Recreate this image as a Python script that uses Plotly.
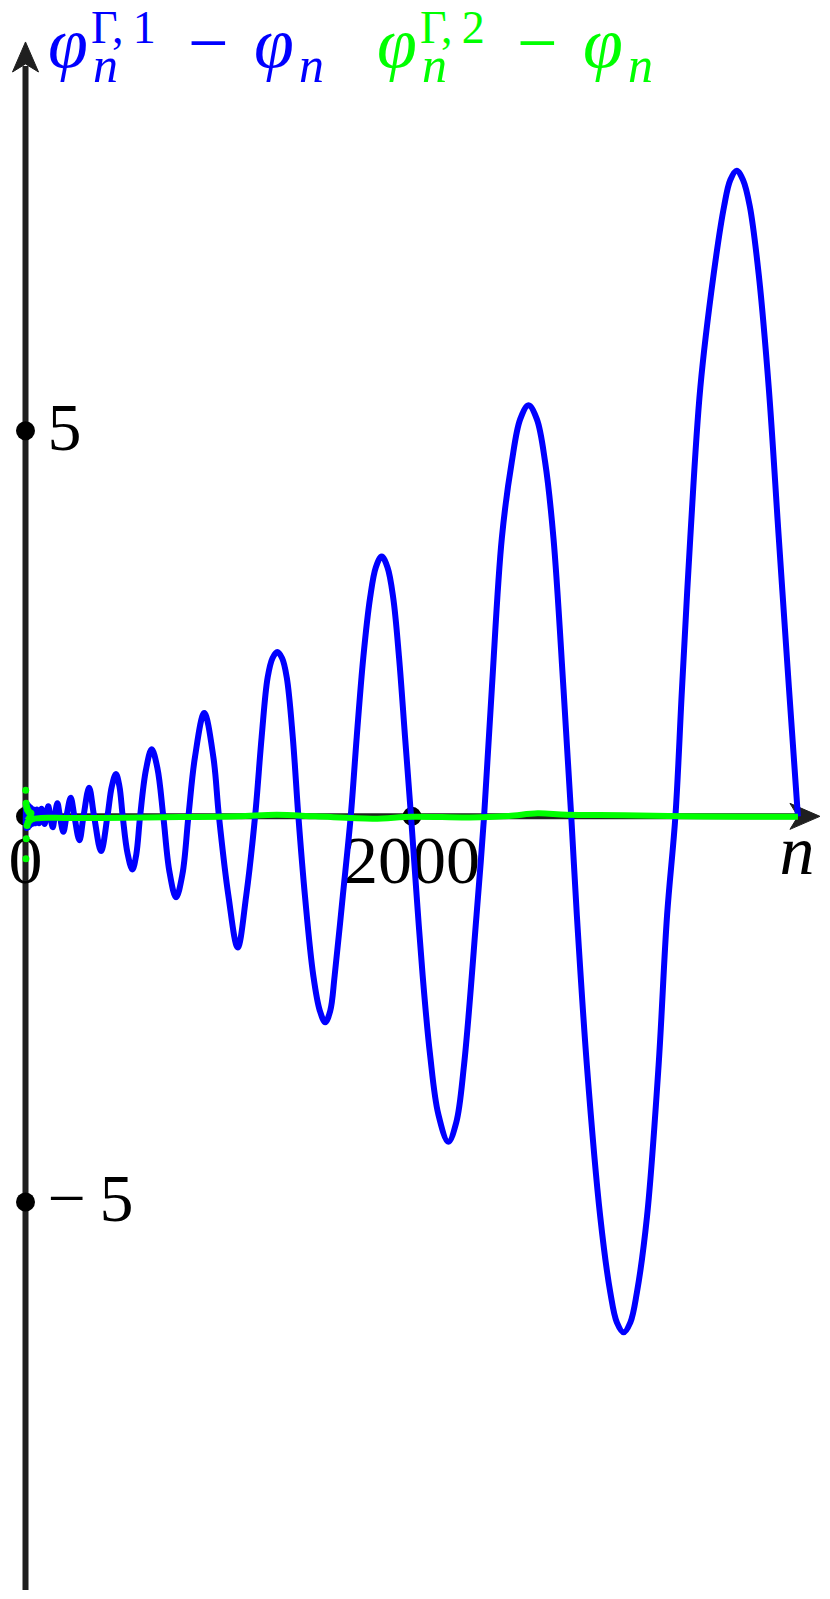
import plotly.graph_objects as go

# ---------------- data ----------------
blue_n = [1, 3, 5, 7, 9, 12, 15, 19, 23, 28, 34, 41, 45, 49, 54, 59, 64, 70, 76, 83, 90, 99, 107,
          118, 128, 141, 151, 165, 178, 196, 212, 234, 253, 279, 300, 329, 355, 391, 424,
          446, 468, 486, 503, 528, 553, 573, 593, 623, 653, 683, 713, 745, 779, 812, 843,
          877, 925, 972, 1001, 1050, 1098, 1142, 1188, 1222, 1253, 1278, 1303, 1328, 1352, 1383, 1412,
          1446, 1489, 1523, 1551, 1577, 1600, 1642, 1683, 1714, 1748, 1783, 1813, 1843, 1873, 1903,
          1933, 1964, 1995,
          2024, 2055, 2093, 2136, 2188, 2229, 2269, 2334, 2373, 2413, 2465, 2516, 2560, 2603, 2646,
          2689, 2732, 2784, 2824, 2853, 2905, 2974, 3026, 3060, 3095, 3130, 3164, 3216, 3276, 3320,
          3363, 3397, 3440, 3492, 3561, 3615, 3647, 3680, 3713, 3748, 3794, 3846, 3898, 3951, 3997]
blue_v = [-0.10, 0.17, -0.15, 0.16, -0.15, 0.15, -0.14, 0.13, -0.12, 0.11, -0.10, 0.09, 0.0, -0.09, 0.0,
          0.09, 0.0, -0.09, 0.0, 0.10, 0.0, -0.10, 0.0,
          0.13, 0.0, -0.14, 0.0, 0.17, 0.0, -0.20, 0.0, 0.24, 0.0, -0.31, 0.0, 0.37, 0.0, -0.45, 0.0,
          0.38, 0.55, 0.39, 0.0, -0.48, -0.69, -0.50, 0.0, 0.60, 0.87, 0.62, 0.0, -0.72, -1.05, -0.75, 0.0,
          0.77, 1.34, 0.77, 0.0, -1.03, -1.70, -1.03, 0.0, 1.03, 1.80, 2.05, 2.13, 2.05, 1.80, 1.03, 0.0,
          -1.03, -2.06, -2.52, -2.67, -2.52, -2.06, -1.03, 0.0, 1.03, 2.06, 2.83, 3.23, 3.37, 3.23, 2.83,
          2.06, 1.03, 0.0,
          -1.03, -2.06, -3.08, -3.86, -4.22, -3.97, -3.23, -1.28, 0.0, 1.65, 3.61, 4.59, 5.15, 5.33, 5.15,
          4.59, 3.61, 1.65, 0.0, -1.28, -3.23, -5.19, -6.17, -6.56, -6.69, -6.56, -6.17, -5.19, -3.23, -1.28,
          0.0, 1.65, 3.61, 5.56, 7.03, 7.91, 8.25, 8.37, 8.25, 7.91, 7.03, 5.56, 3.61, 1.65, 0.0]

green_n = [5, 30, 80, 200, 400, 800, 1100, 1300, 1500, 1800, 2000, 2300, 2500, 2650, 2800,
           3100, 3400, 3700, 3997]
green_v = [0.0, -0.03, -0.02, -0.02, -0.02, -0.01, 0.0, 0.02, 0.0, -0.03, -0.005, -0.015, 0.005,
           0.04, 0.02, 0.015, 0.0, -0.005, -0.005]

green_dot_n = [1, 2, 3, 4, 6, 8, 10, 13, 17, 22, 28, 35]
green_dot_v = [0.34, -0.55, 0.17, -0.29, 0.12, -0.12, 0.09, -0.08, 0.06, -0.05, 0.04, -0.03]

y_ticks = [5, -5]
y_tick_labels = ["5", "\u2212\u20095"]
x_ticks = [0, 2000]
x_tick_labels = ["0", "2000"]

# ---------------- geometry ----------------
W, H = 830, 1599
ORIGIN_PX = (25.5, 816.35)
KX = 386.5 / 2000.0               # px per n unit
KY = 77.13                        # px per y unit
x_range = [-ORIGIN_PX[0] / KX, (W - ORIGIN_PX[0]) / KX]
y_range = [-(H - ORIGIN_PX[1]) / KY, ORIGIN_PX[1] / KY]

X_END = 4111      # arrow tip of n axis
Y_TOP = 10.04     # arrow tip of vertical axis
Y_BOT = -10.03

AXIS_COLOR = "#1f1f1f"
BLUE = "#0000ff"
GREEN = "#00ff00"
FONT = "Liberation Serif"

HEAD_L, HEAD_W, HEAD_N = 30, 13, 22   # arrow head length / half width / notch depth (px)

shapes = [
    dict(type="line", xref="x", yref="y", x0=0, y0=Y_BOT, x1=0, y1=Y_TOP - 24 / KY,
         line=dict(color=AXIS_COLOR, width=6), layer="below"),
    dict(type="line", xref="x", yref="y", x0=0, y0=0, x1=X_END - 24 / KX, y1=0,
         line=dict(color=AXIS_COLOR, width=6), layer="below"),
    dict(type="path", xref="x", yref="y", layer="below", fillcolor=AXIS_COLOR,
         line=dict(color=AXIS_COLOR, width=1),
         path="M{:.3f},{:.4f} L{:.3f},{:.4f} L{:.3f},{:.4f} L{:.3f},{:.4f} Z".format(
             X_END, 0, X_END - HEAD_L / KX, HEAD_W / KY, X_END - HEAD_N / KX, 0,
             X_END - HEAD_L / KX, -HEAD_W / KY)),
    dict(type="path", xref="x", yref="y", layer="below", fillcolor=AXIS_COLOR,
         line=dict(color=AXIS_COLOR, width=1),
         path="M{:.3f},{:.4f} L{:.3f},{:.4f} L{:.3f},{:.4f} L{:.3f},{:.4f} Z".format(
             0, Y_TOP, HEAD_W / KX, Y_TOP - HEAD_L / KY, 0, Y_TOP - HEAD_N / KY,
             -HEAD_W / KX, Y_TOP - HEAD_L / KY)),
]

fig = go.Figure()

# tick dots
fig.add_trace(go.Scatter(x=[0] * len(y_ticks) + x_ticks, y=y_ticks + [0] * len(x_ticks),
                         mode="markers", marker=dict(color="black", size=19), hoverinfo="skip"))

# tick labels
fig.add_trace(go.Scatter(x=[22 / KX] * len(y_ticks), y=[t - 2 / KY for t in y_ticks],
                         mode="text", text=y_tick_labels, textposition="middle right",
                         textfont=dict(family=FONT, size=68, color="black"), hoverinfo="skip"))
fig.add_trace(go.Scatter(x=x_ticks, y=[-16 / KY] * len(x_ticks), mode="text", text=x_tick_labels,
                         textposition="bottom center",
                         textfont=dict(family=FONT, size=68, color="black"), hoverinfo="skip"))
fig.add_trace(go.Scatter(x=[3992], y=[-5 / KY], mode="text", text=["<i>n</i>"],
                         textposition="bottom center",
                         textfont=dict(family=FONT, size=70, color="black"), hoverinfo="skip"))

# curves
fig.add_trace(go.Scatter(x=blue_n, y=blue_v, mode="lines",
                         line=dict(color=BLUE, width=6, shape="spline", smoothing=1.0),
                         hoverinfo="skip"))
fig.add_trace(go.Scatter(x=green_n, y=green_v, mode="lines",
                         line=dict(color=GREEN, width=6, shape="spline"), hoverinfo="skip"))
fig.add_trace(go.Scatter(x=green_dot_n, y=green_dot_v, mode="markers",
                         marker=dict(color=GREEN, size=7), hoverinfo="skip"))

annotations = []


def label(left_px, baseline_px, text, size, color):
    annotations.append(dict(
        x=left_px / W, y=1 - (baseline_px - 0.3375 * size) / H, xref="paper", yref="paper",
        xanchor="left", yanchor="middle", showarrow=False, text=text,
        font=dict(family=FONT, size=size, color=color), borderpad=0, borderwidth=0))


for dx, color, idx in [(0, BLUE, "1"), (329, GREEN, "2")]:
    label(48 + dx, 67, "<i>\u03c6</i>", 72, color)
    label(91 + dx, 43, "\u0393,\u2009%s" % idx, 46, color)
    label(93 + dx, 82, "<i>n</i>", 50, color)
    label(188 + dx, 67, "\u2212", 72, color)
    label(254 + dx, 67, "<i>\u03c6</i>", 72, color)
    label(299 + dx, 82, "<i>n</i>", 50, color)

fig.update_layout(
    width=W, height=H, margin=dict(l=0, r=0, t=0, b=0),
    paper_bgcolor="white", plot_bgcolor="white", showlegend=False,
    xaxis=dict(range=x_range, visible=False, fixedrange=True),
    yaxis=dict(range=y_range, visible=False, fixedrange=True),
    annotations=annotations, shapes=shapes, hovermode=False,
)

fig.write_html("out.html", config={"displayModeBar": False, "staticPlot": True},
               post_script="document.body.style.margin='0px';document.body.style.overflow='hidden';")
